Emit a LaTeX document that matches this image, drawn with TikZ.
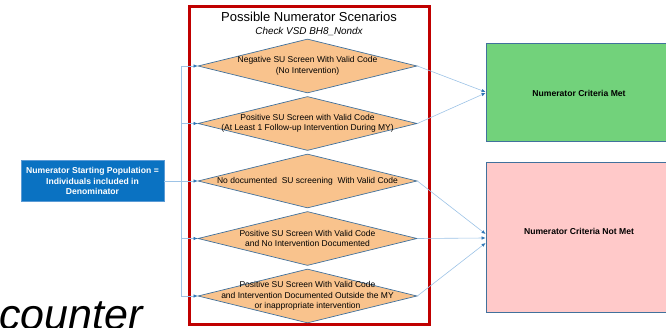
\documentclass[tikz,border=0pt]{standalone}
\usepackage{fontspec}
\setmainfont{Liberation Sans}
\usetikzlibrary{shapes.geometric,arrows.meta}
\definecolor{framered}{HTML}{C00000}
\definecolor{scenfill}{HTML}{F9C38D}
\definecolor{edgeblue}{HTML}{41719C}
\definecolor{linkblue}{HTML}{9DC3E6}
\definecolor{tipblue}{HTML}{2E75B6}
\definecolor{startblue}{HTML}{0A72C2}
\definecolor{startedge}{HTML}{5B9BD5}
\definecolor{metgreen}{HTML}{72D27B}
\definecolor{notmetpink}{HTML}{FFC9C9}
\begin{document}
\begin{tikzpicture}[x=1pt,y=-1pt,
  scen/.style={diamond,draw=edgeblue,line width=0.7pt,fill=scenfill,
    minimum width=219pt,minimum height=54pt,inner sep=0pt},
  smalltext/.style={align=center,inner sep=0pt,font=\fontsize{8.5}{10.5}\selectfont},
  boldtext/.style={align=center,inner sep=0pt,font=\fontsize{8.6}{10.5}\selectfont\bfseries},
  outcome/.style={draw=edgeblue,line width=0.8pt,minimum width=186pt,inner sep=0pt},
  link/.style={draw=linkblue,line width=0.6pt,
    -{Latex[length=4pt,width=3.5pt,color=tipblue]}},
]
\useasboundingbox (0,0) rectangle (666,328);

% frame around the scenarios
\draw[framered,line width=3.5pt] (189.5,6.5) rectangle (429.5,324.5);
\node[inner sep=0pt,font=\fontsize{13}{15}\selectfont] (title) at (309,17)
  {Possible Numerator Scenarios};
\node[inner sep=0pt,font=\fontsize{9.9}{11}\selectfont\itshape] (subtitle) at (309,32)
  {Check VSD BH8\_Nondx};

% starting population
\node[draw=startedge,line width=0.6pt,fill=startblue,text=white,
  minimum width=143pt,minimum height=41pt,boldtext] (start) at (92.5,181)
  {Numerator Starting Population =\\Individuals included in\\Denominator};

% scenario diamonds
\node[scen] (d1) at (307.5,66) {};
\node[scen] (d2) at (307.5,123.5) {};
\node[scen] (d3) at (307.5,181) {};
\node[scen] (d4) at (307.5,238.5) {};
\node[scen] (d5) at (307.5,296) {};
\node[smalltext] (t1) at (d1) {Negative SU Screen With Valid Code\\(No Intervention)};
\node[smalltext] (t2) at (d2) {Positive SU Screen with Valid Code\\(At Least 1 Follow-up Intervention During MY)};
\node[smalltext] (t3) at (d3) {No documented\ \ SU screening\ \ With Valid Code};
\node[smalltext] (t4) at (d4) {Positive SU Screen With Valid Code\\and No Intervention Documented};
\node[smalltext] (t5) at (d5) {Positive SU Screen With Valid Code\\and Intervention Documented Outside the MY\\or inappropriate intervention};

% outcomes
\node[outcome,fill=metgreen,minimum height=98pt] (met) at (579,92) {};
\node[boldtext] (metlabel) at (579,93) {Numerator Criteria Met};
\node[outcome,fill=notmetpink,minimum height=150pt] (notmet) at (579,237) {};
\node[boldtext] (notmetlabel) at (579,231) {Numerator Criteria Not Met};

% large heading fragment
\node[anchor=base west,inner sep=0pt,font=\fontsize{43}{43}\selectfont\itshape] (enc)
  at (-1,330) {counter};

% fan-out from the starting population
\coordinate (spine) at (181,181);
\draw[link] (start.east) -- (d3.west);
\draw[link] (spine) |- (d1.west);
\draw[link] (spine) |- (d2.west);
\draw[link] (spine) |- (d4.west);
\draw[link] (spine) |- (d5.west);

% scenarios to outcomes
\draw[link] (d1.east) -- (met.west);
\draw[link] (d2.east) -- ([yshift=-1pt]met.west);
\draw[link] (d3.east) -- ([yshift=3pt]notmet.west);
\draw[link] (d4.east) -- ([yshift=-1pt]notmet.west);
\draw[link] (d5.east) -- ([yshift=-6pt]notmet.west);
\end{tikzpicture}
\end{document}
